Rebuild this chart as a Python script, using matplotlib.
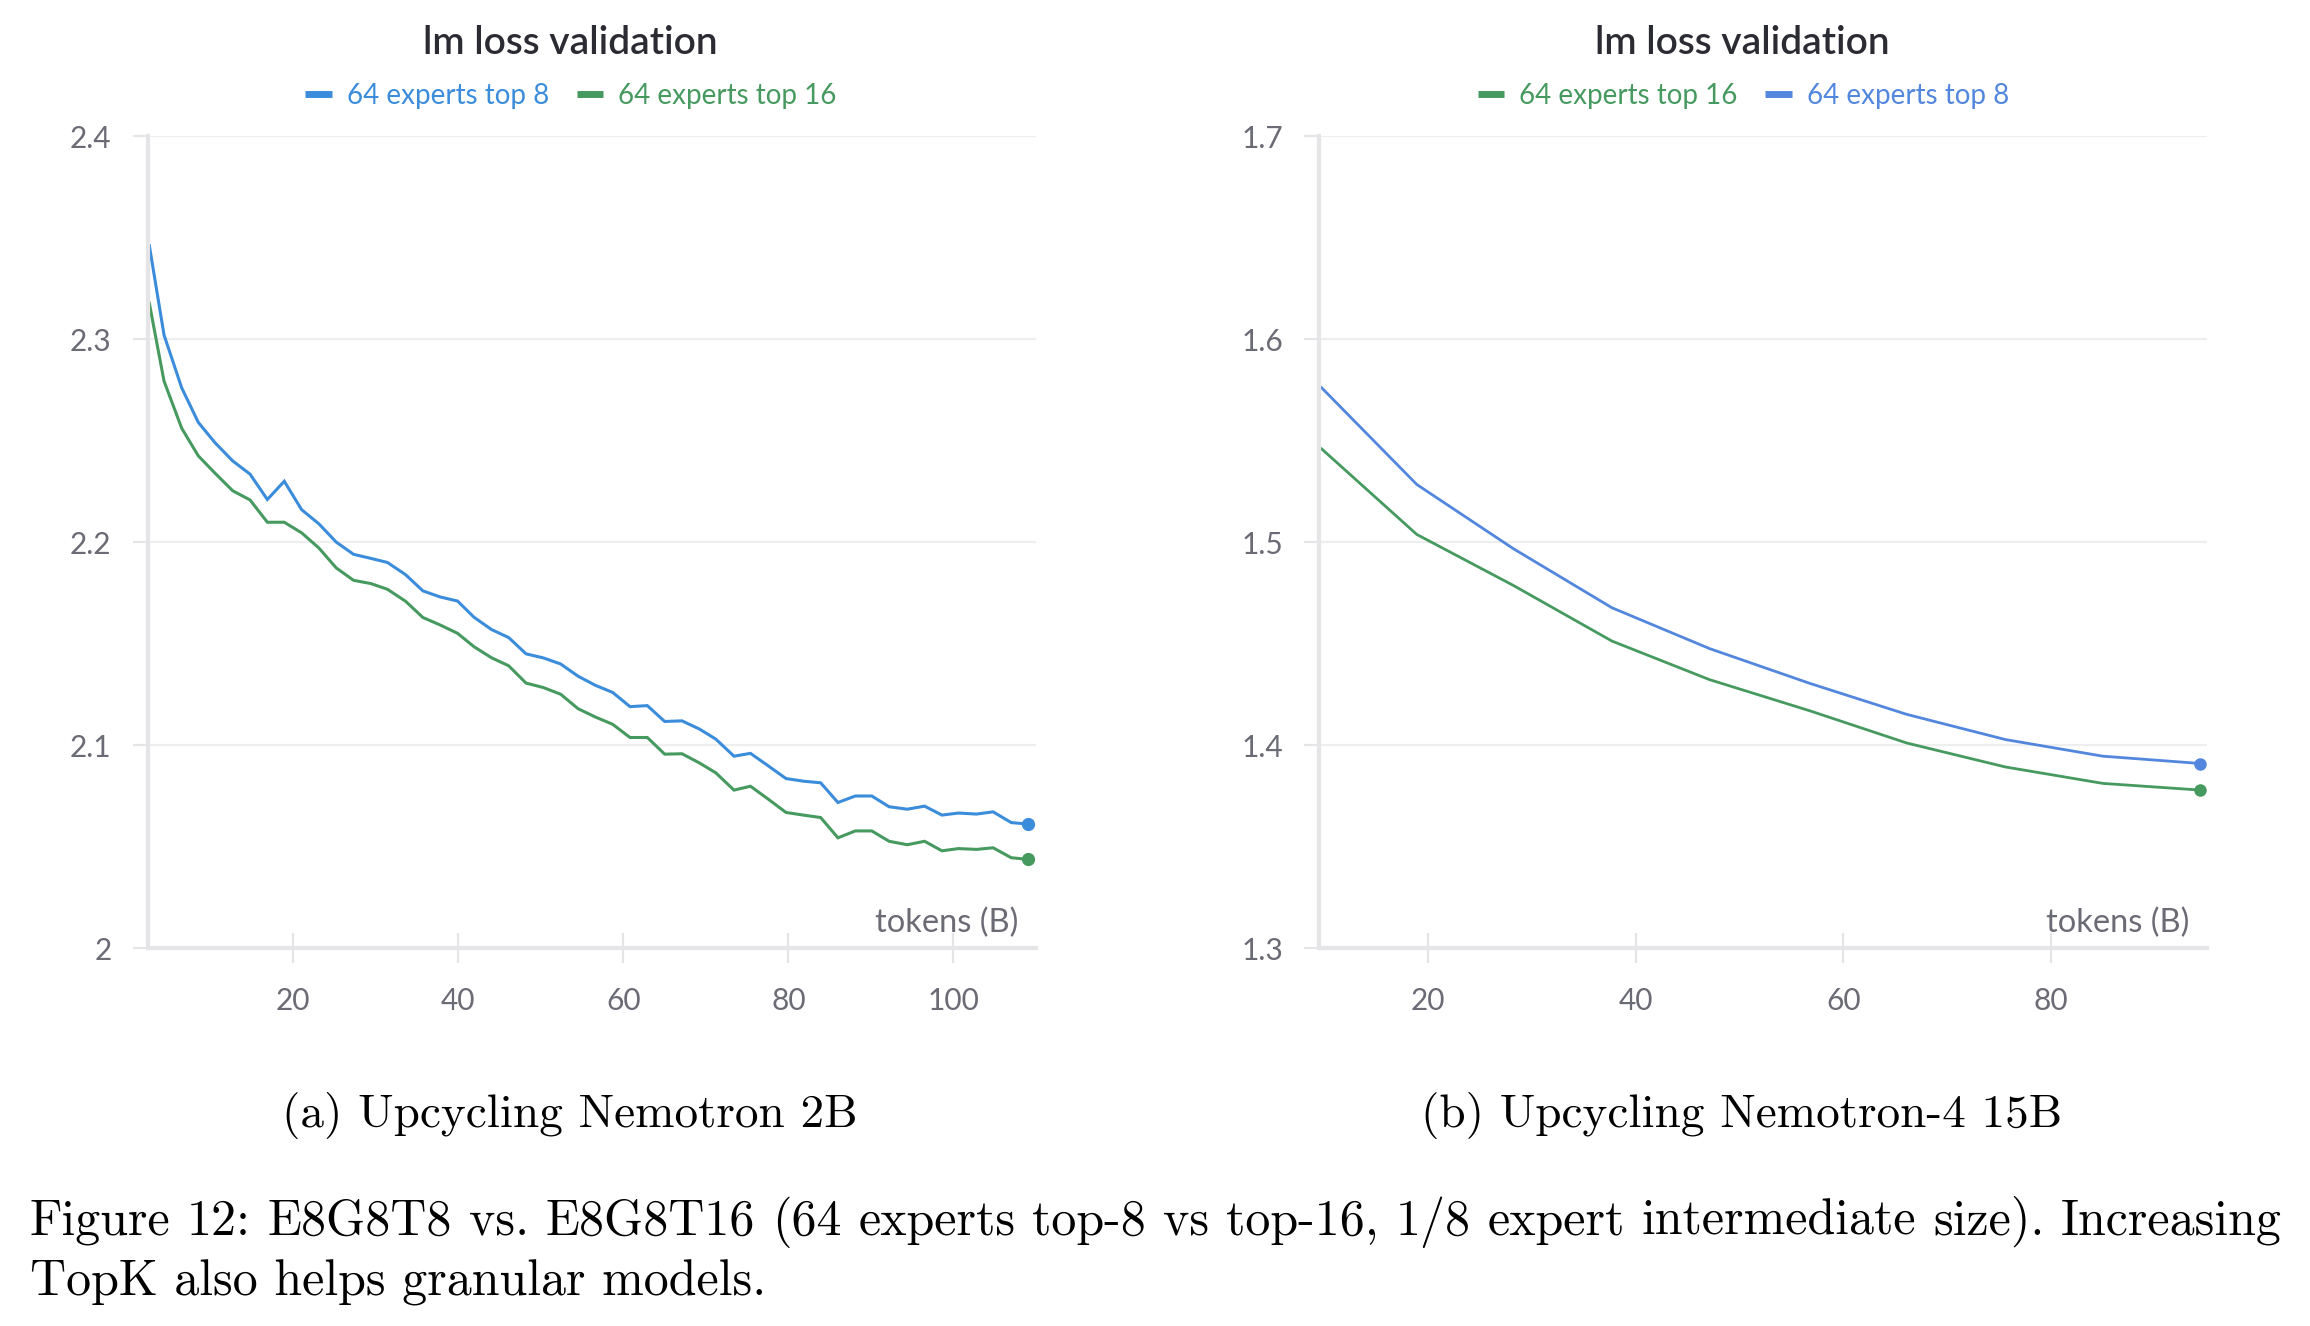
import matplotlib
matplotlib.use("Agg")
import matplotlib.pyplot as plt

# ---------------- data ----------------
tokens_2b = [2.55, 4.33, 6.47, 8.48, 10.5, 12.65, 14.75, 16.85, 18.9, 21.0, 23.1, 25.2,
             27.3, 29.4, 31.4, 33.6, 35.7, 37.8, 39.9, 41.9, 44.0, 46.1, 48.2, 50.3,
             52.4, 54.5, 56.6, 58.7, 60.8, 62.9, 65.0, 67.1, 69.2, 71.2, 73.4, 75.4,
             77.6, 79.7, 81.8, 83.9, 86.0, 88.1, 90.1, 92.2, 94.4, 96.5, 98.6, 100.6,
             102.8, 104.8, 107.0, 109.0]
top8_2b = [2.346, 2.302, 2.276, 2.259, 2.249, 2.240, 2.2335, 2.221, 2.230, 2.216, 2.209, 2.200,
           2.194, 2.192, 2.190, 2.184, 2.176, 2.173, 2.171, 2.163, 2.157, 2.153, 2.145, 2.143,
           2.140, 2.134, 2.1295, 2.126, 2.119, 2.1195, 2.1117, 2.112, 2.108, 2.103, 2.0946, 2.096,
           2.0897, 2.0836, 2.0823, 2.0815, 2.0718, 2.075, 2.075, 2.0697, 2.0685, 2.070, 2.0656, 2.0666,
           2.0661, 2.0672, 2.0619, 2.0612]
top16_2b = [2.3176, 2.2793, 2.2561, 2.2425, 2.234, 2.2253, 2.2208, 2.2098, 2.2098, 2.2046, 2.1971, 2.1873,
            2.1812, 2.1796, 2.1768, 2.1709, 2.1629, 2.1592, 2.1551, 2.1485, 2.1431, 2.1391, 2.1306, 2.1284,
            2.1251, 2.118, 2.1139, 2.1103, 2.1038, 2.1038, 2.0956, 2.0958, 2.0913, 2.0864, 2.0779, 2.0798,
            2.0733, 2.0669, 2.0656, 2.0644, 2.0544, 2.0578, 2.0578, 2.0527, 2.0510, 2.0527, 2.0480, 2.0491,
            2.0487, 2.0495, 2.0446, 2.0438]

tokens_15b = [9.74, 18.9, 28.2, 37.7, 47.1, 56.8, 66.1, 75.6, 85.0, 94.4]
top8_15b = [1.576, 1.5284, 1.4968, 1.4677, 1.4476, 1.4304, 1.4152, 1.4028, 1.3946, 1.3910]
top16_15b = [1.5459, 1.5038, 1.4787, 1.4513, 1.4323, 1.4169, 1.4011, 1.3893, 1.3812, 1.3779]

yticks_2b = [2.0, 2.1, 2.2, 2.3, 2.4]
ylabels_2b = ["2", "2.1", "2.2", "2.3", "2.4"]
yticks_15b = [1.3, 1.4, 1.5, 1.6, 1.7]
ylabels_15b = ["1.3", "1.4", "1.5", "1.6", "1.7"]
xticks_2b = [20, 40, 60, 80, 100]
xticks_15b = [20, 40, 60, 80]

title = "lm loss validation"
label8 = "64 experts top 8"
label16 = "64 experts top 16"
xlabel = "tokens (B)"
sub_a = "(a) Upcycling Nemotron 2B"
sub_b = "(b) Upcycling Nemotron-4 15B"
cap1 = "Figure 12: E8G8T8 vs. E8G8T16 (64 experts top-8 vs top-16, 1/8 expert intermediate size). Increasing"
cap2 = "TopK also helps granular models."

# ---------------- style ----------------
plt.rcParams['font.family'] = ['Lato', 'DejaVu Sans']
BLUE_L = '#3b8ddb'
BLUE_R = '#5387dd'
GREEN = '#479a5f'
TICK_TXT = '#6b6b76'
AXIS_C = '#e5e5e8'
GRID_C = '#eeeeef'
TITLE_C = '#2b2b33'

W, H = 2310, 1326
fig = plt.figure(figsize=(W / 100, H / 100), dpi=100)


def fx(px):
    return px / W


def fy(py):
    return 1 - py / H


def setup(ax, xlim, ylim, yticks, ylabels, xticks):
    ax.set_xlim(*xlim)
    ax.set_ylim(*ylim)
    ax.set_yticks(yticks)
    ax.set_yticklabels(ylabels)
    ax.set_xticks(xticks)
    ax.set_xticklabels([str(t) for t in xticks])
    for s in ['top', 'right']:
        ax.spines[s].set_visible(False)
    for s in ['left', 'bottom']:
        ax.spines[s].set_color(AXIS_C)
        ax.spines[s].set_linewidth(3.0)
    ax.grid(axis='y', color=GRID_C, linewidth=1.6)
    ax.set_axisbelow(True)
    ax.tick_params(axis='y', direction='out', length=11, width=1.6, color=AXIS_C,
                   pad=15, labelsize=21.5, labelcolor=TICK_TXT)
    ax.tick_params(axis='x', direction='inout', length=21.6, width=1.6, color=AXIS_C,
                   pad=17, labelsize=21.5, labelcolor=TICK_TXT)
    ax.text(0.98, 0.012, xlabel, transform=ax.transAxes, ha='right', va='bottom',
            fontsize=23.5, color=TICK_TXT)


# left panel
axL = fig.add_axes([fx(147.7), fy(948.3), fx(1036 - 147.7), (948.3 - 136) / H])
setup(axL, (2.35, 110.0), (2.0, 2.4), yticks_2b, ylabels_2b, xticks_2b)
l8, = axL.plot(tokens_2b, top8_2b, color=BLUE_L, lw=2.2, label=label8, solid_joinstyle='miter')
l16, = axL.plot(tokens_2b, top16_2b, color=GREEN, lw=2.2, label=label16, solid_joinstyle='miter')
axL.plot(tokens_2b[-1:], top8_2b[-1:], 'o', color=BLUE_L, ms=8.5, clip_on=False)
axL.plot(tokens_2b[-1:], top16_2b[-1:], 'o', color=GREEN, ms=8.5, clip_on=False)

# right panel
axR = fig.add_axes([fx(1319), fy(948.3), fx(2207.3 - 1319), (948.3 - 136) / H])
setup(axR, (9.48, 95.06), (1.3, 1.7), yticks_15b, ylabels_15b, xticks_15b)
r16, = axR.plot(tokens_15b, top16_15b, color=GREEN, lw=2.0, label=label16)
r8, = axR.plot(tokens_15b, top8_15b, color=BLUE_R, lw=2.0, label=label8)
axR.plot(tokens_15b[-1:], top8_15b[-1:], 'o', color=BLUE_R, ms=8, clip_on=False)
axR.plot(tokens_15b[-1:], top16_15b[-1:], 'o', color=GREEN, ms=8, clip_on=False)

# titles
fig.text(fx(570), fy(43.5), title, ha='center', va='center', fontsize=28,
         fontweight='semibold', color=TITLE_C)
fig.text(fx(1742), fy(43.5), title, ha='center', va='center', fontsize=28,
         fontweight='semibold', color=TITLE_C)


def make_legend(ax, handles, cx):
    hs = [plt.Line2D([], [], color=h.get_color(), lw=5, solid_capstyle='butt') for h in handles]
    leg = ax.legend(hs, [h.get_label() for h in handles], loc='center',
                    bbox_to_anchor=(fx(cx), fy(96)), bbox_transform=fig.transFigure,
                    ncol=2, frameon=False, fontsize=20, handlelength=0.95,
                    handletextpad=0.55, columnspacing=1.0, borderpad=0,
                    labelcolor='linecolor')
    return leg


make_legend(axL, [l8, l16], 571)
make_legend(axR, [r16, r8], 1743.5)

# captions (LaTeX-like serif)
serif = ['cmr10', 'DejaVu Serif']
SUB_FS = 34
CAP_FS = 36
fig.text(fx(569.5), fy(1127), sub_a, ha='center', va='baseline', fontsize=SUB_FS, family=serif)
fig.text(fx(1742), fy(1127), sub_b, ha='center', va='baseline', fontsize=SUB_FS, family=serif)

# justified first caption line (LaTeX style), one text per word
renderer = fig.canvas.get_renderer()
words = cap1.split(' ')
objs = [fig.text(0, fy(1234.6), w, ha='left', va='baseline', fontsize=CAP_FS, family=serif)
        for w in words]
widths = [o.get_window_extent(renderer=renderer).width for o in objs]
x_left, x_right = 29.5, 2282.0
gap = (x_right - x_left - sum(widths)) / (len(words) - 1)
xpos = x_left
for o, wdt in zip(objs, widths):
    o.set_x(fx(xpos))
    xpos += wdt + gap

fig.text(fx(x_left), fy(1296), cap2, ha='left', va='baseline', fontsize=CAP_FS, family=serif)

fig.savefig("out.png", dpi=100, facecolor='white')
